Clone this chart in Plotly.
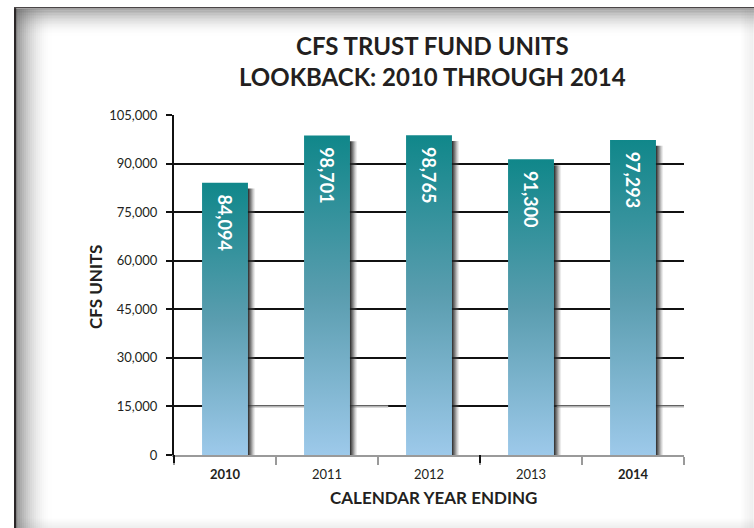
import plotly.graph_objects as go

# ---- data ----
years = ["2010", "2011", "2012", "2013", "2014"]
units = [84094, 98701, 98765, 91300, 97293]
bold_years = ["2010", "2014"]
y_tick_values = [0, 15000, 30000, 45000, 60000, 75000, 90000, 105000]
title_lines = ["CFS TRUST FUND UNITS", "LOOKBACK: 2010 THROUGH 2014"]
y_title = "CFS UNITS"
x_title = "CALENDAR YEAR ENDING"

# ---- geometry helpers (plot area in pixels) ----
W, H = 754, 528
L, R, T, B = 174, 70, 115, 73
PW, PH = W - L - R, H - T - B


def px(x):
    return (x - L) / PW


def py(y):
    return (H - B - y) / PH


FONT = "Lato"
INK = "#231f20"
HALF = 0.225      # half bar width in category units
SHW = 0.075       # shadow width

fig = go.Figure()
xs = list(range(len(years)))

for i, v in zip(xs, units):
    # soft drop shadow on the right of each bar
    fig.add_trace(go.Scatter(
        x=[i + HALF - 0.005, i + HALF + SHW, i + HALF + SHW, i + HALF - 0.005],
        y=[0, 0, v - 1800, v - 1800],
        fill="toself", mode="none",
        fillgradient=dict(type="horizontal",
                          colorscale=[[0, "rgba(20,20,20,1)"],
                                      [0.45, "rgba(60,60,60,0.6)"],
                                      [1, "rgba(140,140,140,0)"]]),
        hoverinfo="skip", showlegend=False))
    # gradient bar body
    fig.add_trace(go.Scatter(
        x=[i - HALF, i + HALF, i + HALF, i - HALF],
        y=[0, 0, v, v],
        fill="toself", mode="none",
        fillgradient=dict(type="vertical",
                          colorscale=[[0, "#9dc9ea"], [0.5, "#5a9daf"], [1, "#10878a"]]),
        hoverinfo="skip", showlegend=False))

# transparent bars carrying the value labels (on an overlaid axis pair so they draw on top)
fig.add_trace(go.Bar(
    x=xs, y=units, width=2 * HALF, xaxis="x2", yaxis="y2",
    marker=dict(color="rgba(0,0,0,0)", line=dict(width=0)),
    text=["\u00a0\u00a0" + f"{v:,}" for v in units],
    textposition="inside", insidetextanchor="end", textangle=90,
    textfont=dict(family=FONT, size=18, color="white", weight=700),
    cliponaxis=False,
    hoverinfo="skip", showlegend=False))

ticktext = [f"<b>{y}</b>" if y in bold_years else y for y in years]

shapes = []
# grey portions of the 15,000 gridline
for a, b in [(0.2, 1.6), (3.25, 4.5)]:
    shapes.append(dict(type="line", xref="x", yref="y", x0=a, x1=b, y0=15000, y1=15000,
                       line=dict(color="#b4b4b4", width=2), layer="between"))
# y axis line extension below zero
shapes.append(dict(type="line", xref="paper", yref="paper", x0=0, x1=0, y0=0, y1=py(463),
                   line=dict(color="#111", width=2)))
# darker boundary tick in the middle
shapes.append(dict(type="line", xref="x", yref="paper", x0=2.5, x1=2.5, y0=0, y1=py(463),
                   line=dict(color="#111", width=2)))

# ---- frame with inner shadow ----
N = 18
for k in range(N):
    a = 0.62 * (1 - k / N) ** 2
    # left inner shadow
    shapes.append(dict(type="rect", xref="paper", yref="paper",
                       x0=px(16 + 2 * k), x1=px(18 + 2 * k), y0=py(H), y1=py(9),
                       fillcolor=f"rgba(90,90,90,{a:.3f})", line=dict(width=0), layer="below"))
    # top inner shadow
    shapes.append(dict(type="rect", xref="paper", yref="paper",
                       x0=px(16), x1=px(W), y0=py(9 + 1.5 * k), y1=py(10.5 + 1.5 * k),
                       fillcolor=f"rgba(90,90,90,{a * 0.85:.3f})", line=dict(width=0), layer="below"))
M = 8
for k in range(M):
    a = 0.12 * (1 - k / M)
    shapes.append(dict(type="rect", xref="paper", yref="paper",
                       x0=px(W - 2 - 1.6 * k), x1=px(W - 0.4 - 1.6 * k), y0=py(H), y1=py(9),
                       fillcolor=f"rgba(120,120,120,{a:.3f})", line=dict(width=0), layer="below"))
    shapes.append(dict(type="rect", xref="paper", yref="paper",
                       x0=px(16), x1=px(W), y0=py(H - 1.2 * k), y1=py(H - 1.2 - 1.2 * k),
                       fillcolor=f"rgba(120,120,120,{a:.3f})", line=dict(width=0), layer="below"))
# dark frame lines
shapes.append(dict(type="rect", xref="paper", yref="paper",
                   x0=px(14), x1=px(16.2), y0=py(H), y1=py(7),
                   fillcolor="#2a2627", line=dict(width=0), layer="below"))
shapes.append(dict(type="rect", xref="paper", yref="paper",
                   x0=px(14), x1=px(W), y0=py(8.6), y1=py(7),
                   fillcolor="#4a4647", line=dict(width=0), layer="below"))

annotations = [
    dict(text=title_lines[0], x=px(432), y=py(45), xref="paper", yref="paper",
         showarrow=False, xanchor="center", yanchor="middle",
         font=dict(family=FONT, size=24, color=INK, weight=700)),
    dict(text=title_lines[1], x=px(432), y=py(77), xref="paper", yref="paper",
         showarrow=False, xanchor="center", yanchor="middle",
         font=dict(family=FONT, size=24, color=INK, weight=700)),
    dict(text=y_title, x=px(95), y=py(287), xref="paper", yref="paper",
         showarrow=False, xanchor="center", yanchor="middle", textangle=-90,
         font=dict(family=FONT, size=17, color=INK, weight=700)),
    dict(text=x_title, x=px(433), y=py(497), xref="paper", yref="paper",
         showarrow=False, xanchor="center", yanchor="middle",
         font=dict(family=FONT, size=17, color=INK, weight=700)),
]

fig.update_layout(
    width=W, height=H,
    margin=dict(l=L, r=R, t=T, b=B, pad=0),
    paper_bgcolor="white", plot_bgcolor="white",
    showlegend=False,
    shapes=shapes, annotations=annotations,
    xaxis=dict(range=[-0.5, len(years) - 0.5], tickmode="array", tickvals=xs,
               ticktext=ticktext, ticks="", showgrid=False, zeroline=False,
               showline=True, linecolor="#9a9a9a", linewidth=2,
               tickfont=dict(family=FONT, size=13, color=INK),
               ticklabelstandoff=6,
               minor=dict(tickmode="linear", tick0=0.5, dtick=1, ticks="outside",
                          ticklen=8, tickcolor="#9a9a9a", tickwidth=1.5, showgrid=False)),
    yaxis=dict(range=[0, 105000], tickmode="array", tickvals=y_tick_values,
               tickformat=",", ticks="outside", ticklen=6, tickcolor="#111", tickwidth=2,
               showline=True, linecolor="#111", linewidth=2,
               showgrid=True, gridcolor="#111", gridwidth=2, zeroline=False,
               tickfont=dict(family=FONT, size=13, color=INK),
               ticklabelstandoff=6),
    xaxis2=dict(overlaying="x", range=[-0.5, len(years) - 0.5], visible=False,
                showgrid=False, zeroline=False),
    yaxis2=dict(overlaying="y", range=[0, 105000], visible=False,
                showgrid=False, zeroline=False),
)

fig.write_html(
    "out.html",
    config={"displayModeBar": False},
    post_script="document.body.style.margin='0';document.body.style.padding='0';"
                "document.body.style.overflow='hidden';",
)
